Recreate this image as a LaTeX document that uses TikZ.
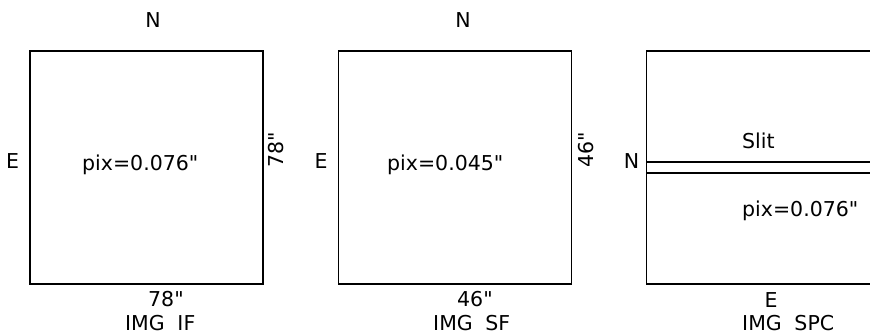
\documentclass[tikz,border=0pt]{standalone}
\usepackage{fontspec}
\newfontfamily\lblfont{DejaVu Sans}
\begin{document}
\begin{tikzpicture}[x=1pt,y=-1pt,
  frame/.style={draw,line width=1.7pt,minimum width=233pt,minimum height=233pt,inner sep=0pt},
  edge/.style={line width=1.7pt},
  lbl/.style={font=\lblfont\fontsize{20.5}{20.5}\selectfont,inner sep=0pt},
  lblw/.style={lbl,anchor=base west},
  lblc/.style={lbl,anchor=base},
  namelbl/.style={lblw,text depth=0pt}]
\useasboundingbox (0,0) rectangle (870,335);
% frames
\node[frame] (if) at (146.5,167.5) {};
\node[frame] (sf) at (455,167.5) {};
% spectrum frame (cut at right edge)
\coordinate (spTR) at (872,51);
\coordinate (spTL) at (646.5,51);
\coordinate (spBL) at (646.5,284);
\coordinate (spBR) at (872,284);
\coordinate (s1L) at (646.5,161.7);
\coordinate (s1R) at (872,161.7);
\coordinate (s2L) at (646.5,173.3);
\coordinate (s2R) at (872,173.3);
\draw[edge] (spTR) -- (spTL) -- (spBL) -- (spBR);
\draw[edge] (s1L) -- (s1R);
\draw[edge] (s2L) -- (s2R);
% IMG IF labels
\node[lblc] (ifN) at (153,27) {N};
\node[lblc] (ifE) at (12.5,168) {E};
\node[lblw] (ifpix) at (82,170) {pix=0.076"};
\node[lbl,anchor=base west,rotate=90] (ifside) at (283,168) {78"};
\node[lblw] (ifbot) at (148,306) {78"};
\node[namelbl] (ifname) at (125,330) {IMG\hspace{0.3em} IF};
% IMG SF labels
\node[lblc] (sfN) at (463,27) {N};
\node[lblc] (sfE) at (321,168) {E};
\node[lblw] (sfpix) at (387,170) {pix=0.045"};
\node[lbl,anchor=base west,rotate=90] (sfside) at (593,168) {46"};
\node[lblw] (sfbot) at (457,306) {46"};
\node[namelbl] (sfname) at (433,330) {IMG\hspace{0.3em} SF};
% IMG SPC labels
\node[lblc] (spN) at (631.5,168) {N};
\node[lblw] (slit) at (742,148) {Slit};
\node[lblw] (sppix) at (742,216) {pix=0.076"};
\node[lblc] (spE) at (771,307) {E};
\node[namelbl] (spname) at (742,330) {IMG\hspace{0.3em} SPC};
\end{tikzpicture}
\end{document}
